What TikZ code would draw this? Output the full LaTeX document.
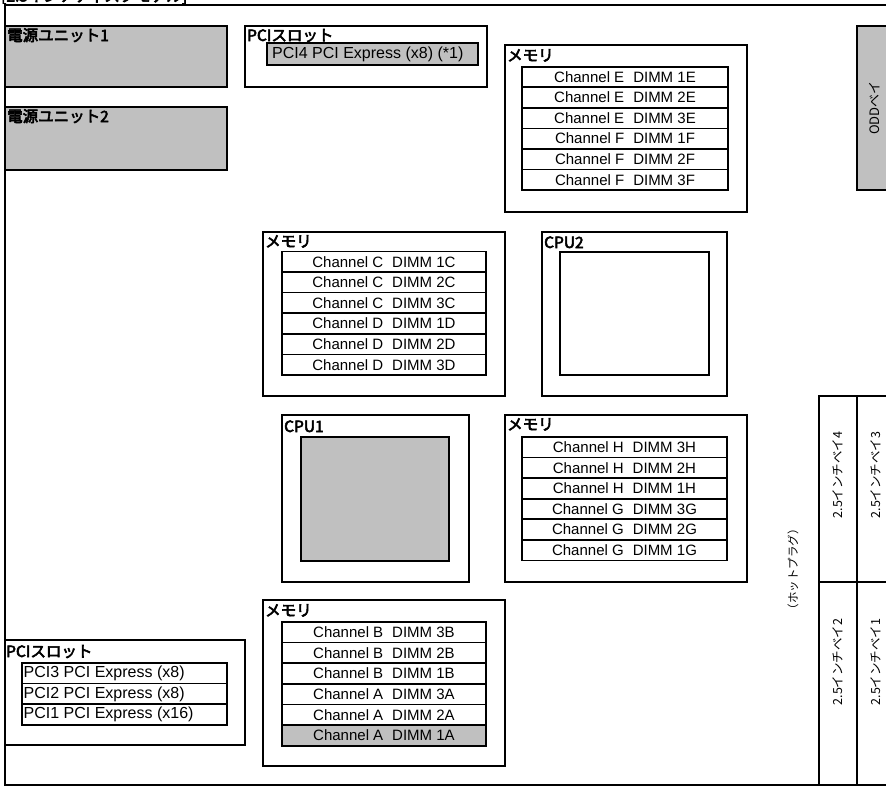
\documentclass[tikz,border=0pt]{standalone}
\usepackage{fontspec}
\setmainfont{Liberation Sans}
\newfontfamily\jpfont{Noto Sans CJK JP}
\newfontfamily\jpbold{Noto Sans CJK JP}[FakeBold=3.5]
\definecolor{lgray}{HTML}{C0C0C0}
\newcommand\dimmtext[2]{Channel #1\hspace{0.6em}DIMM #2}
\begin{document}
\begin{tikzpicture}[x=1pt,y=-1pt,
  box/.style={draw,line width=2pt,anchor=north west,inner sep=0pt,outer sep=0pt},
  gbox/.style={box,fill=lgray},
  rowbox/.style={draw,line width=1.7pt,anchor=north west,inner sep=0pt,outer sep=0pt,font=\fontsize{15}{18}\selectfont},
  pcitext/.style={anchor=west,inner sep=0pt,font=\fontsize{16}{19}\selectfont},
  lbl/.style={anchor=base west,inner sep=0pt,font=\jpbold\fontsize{15.5}{18}\selectfont},
  vtext/.style={rotate=90,inner sep=0pt,font=\jpfont\fontsize{12.5}{14}\selectfont}]
\path[use as bounding box] (0,0) rectangle (886,787);
\clip (0,0) rectangle (886,787);
% cropped title
\begin{scope}
\clip (0,0) rectangle (886,3.5);
\node[anchor=base west,inner sep=0pt,font=\jpbold\fontsize{15.5}{18}\selectfont] (title) at (1,1.5) {[2.5インチディスクモデル]};
\end{scope}
% board
\node[box,minimum width=900pt,minimum height=780pt] (board) at (5,5) {};
% power units
\node[gbox,minimum width=222pt,minimum height=61pt] (psu1) at (5,26) {};
\node[lbl] (psu1l) at (7,41) {電源ユニット1};
\node[gbox,minimum width=222pt,minimum height=63pt] (psu2) at (5,107) {};
\node[lbl] (psu2l) at (7,122) {電源ユニット2};
% PCI slot top
\node[box,minimum width=242pt,minimum height=61pt] (pcit) at (245,26) {};
\node[lbl] (pcitl) at (247,41) {PCIスロット};
\node[gbox,line width=1.7pt,minimum width=211pt,minimum height=22pt] (pci4) at (267,43) {};
\node[pcitext] (pci4t) at ([xshift=5pt]pci4.west) {PCI4 PCI Express (x8) (*1)};
% ODD bay
\node[gbox,minimum width=40pt,minimum height=164pt] (odd) at (857,26) {};
\node[vtext,font=\jpfont\fontsize{13}{15}\selectfont] (oddt) at (875,108) {ODDベイ};
% memory E/F
\node[box,minimum width=242pt,minimum height=167pt] (memef) at (505,45) {};
\node[lbl] (memefl) at (507,61) {メモリ};
\foreach \i/\c/\d in {0/E/1E,1/E/2E,2/E/3E,3/F/1F,4/F/2F,5/F/3F}
  \node[rowbox,minimum width=206pt,minimum height=20.55pt] (ef\i) at (522,{66.7+\i*20.55}) {\dimmtext{\c}{\d}};
% memory C/D
\node[box,minimum width=242pt,minimum height=164pt] (memcd) at (263,232) {};
\node[lbl] (memcdl) at (265,247) {メモリ};
\foreach \i/\c/\d in {0/C/1C,1/C/2C,2/C/3C,3/D/1D,4/D/2D,5/D/3D}
  \node[rowbox,minimum width=204pt,minimum height=20.6pt] (cd\i) at (282,{251.4+\i*20.6}) {\dimmtext{\c}{\d}};
% CPU2
\node[box,minimum width=185pt,minimum height=164pt] (cpu2) at (542,232) {};
\node[lbl] (cpu2l) at (544,248) {CPU2};
\node[box,minimum width=149pt,minimum height=123pt] (cpu2c) at (560,252) {};
% CPU1
\node[box,minimum width=187pt,minimum height=167pt] (cpu1) at (282,415) {};
\node[lbl] (cpu1l) at (284,432) {CPU1};
\node[gbox,minimum width=148pt,minimum height=124pt] (cpu1c) at (301,437) {};
% memory H/G
\node[box,minimum width=242pt,minimum height=167pt] (memhg) at (505,415) {};
\node[lbl] (memhgl) at (507,430) {メモリ};
\foreach \i/\c/\d in {0/H/3H,1/H/2H,2/H/1H,3/G/3G,4/G/2G,5/G/1G}
  \node[rowbox,minimum width=205pt,minimum height=20.65pt] (hg\i) at (522,{436.7+\i*20.65}) {\dimmtext{\c}{\d}};
% memory B/A
\node[box,minimum width=242pt,minimum height=166pt] (memba) at (263,600) {};
\node[lbl] (membal) at (265,616) {メモリ};
\foreach \i/\c/\d in {0/B/3B,1/B/2B,2/B/1B,3/A/3A,4/A/2A}
  \node[rowbox,minimum width=204pt,minimum height=20.7pt] (ba\i) at (282,{621.7+\i*20.7}) {\dimmtext{\c}{\d}};
\node[rowbox,fill=lgray,minimum width=204pt,minimum height=20.7pt] (ba5) at (282,725.2) {\dimmtext{A}{1A}};
% PCI slot bottom
\node[box,minimum width=240pt,minimum height=105pt] (pcib) at (5,640) {};
\node[lbl] (pcibl) at (6,657) {PCIスロット};
\node[rowbox,minimum width=205pt,minimum height=20.8pt] (pci3) at (22,662.7) {};
\node[pcitext] (pci3t) at ([xshift=1.5pt]pci3.west) {PCI3 PCI Express (x8)};
\node[rowbox,minimum width=205pt,minimum height=20.8pt] (pci2) at (22,683.5) {};
\node[pcitext] (pci2t) at ([xshift=1.5pt]pci2.west) {PCI2 PCI Express (x8)};
\node[rowbox,minimum width=205pt,minimum height=20.8pt] (pci1) at (22,704.3) {};
\node[pcitext] (pci1t) at ([xshift=1.5pt]pci1.west) {PCI1 PCI Express (x16)};
% hot plug
\node[vtext,font=\jpfont\fontsize{11.5}{14}\selectfont] (hot) at (793,569) {（ホットプラグ）};
% 2.5 inch bays
\node[box,minimum width=38pt,minimum height=186pt] (bay4) at (819,396) {};
\node[box,minimum width=43pt,minimum height=186pt] (bay3) at (857,396) {};
\node[box,minimum width=38pt,minimum height=203pt] (bay2) at (819,582) {};
\node[box,minimum width=43pt,minimum height=203pt] (bay1) at (857,582) {};
\node[vtext] (bay4t) at (838,475) {2.5インチベイ4};
\node[vtext] (bay3t) at (876,475) {2.5インチベイ3};
\node[vtext] (bay2t) at (838,662) {2.5インチベイ2};
\node[vtext] (bay1t) at (876,662) {2.5インチベイ1};
\end{tikzpicture}
\end{document}
